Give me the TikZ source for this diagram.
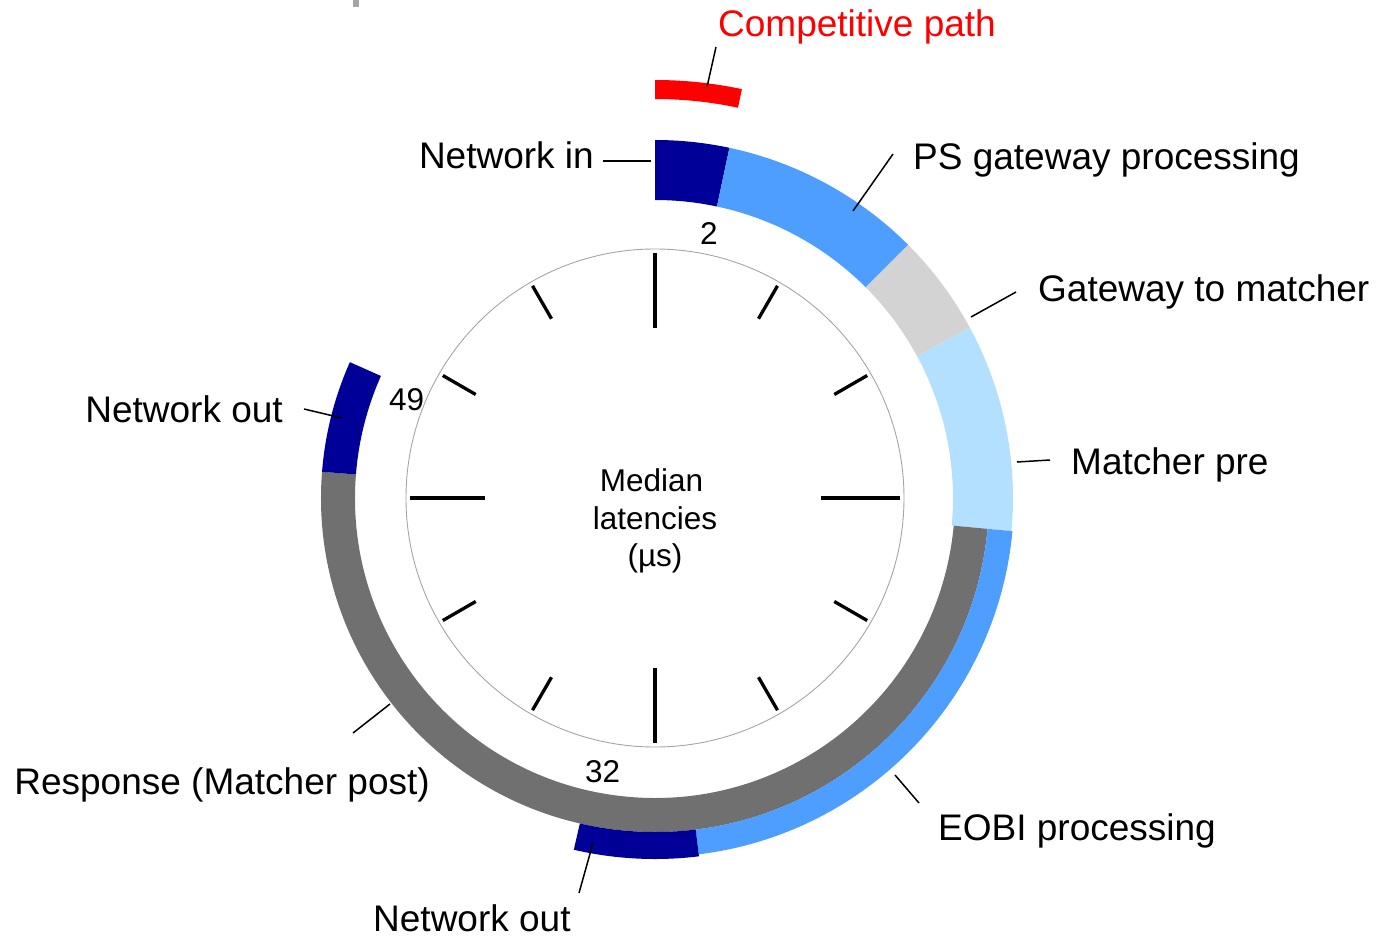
\documentclass[tikz,border=0pt]{standalone}
\usepackage{fontspec}
\setmainfont{Liberation Sans}
\definecolor{netnavy}{RGB}{0,0,153}
\definecolor{gwblue}{RGB}{77,158,255}
\definecolor{gwgray}{RGB}{211,211,211}
\definecolor{prelight}{RGB}{179,224,255}
\definecolor{postgray}{RGB}{112,112,112}
\definecolor{dialgray}{RGB}{165,165,165}
% annular sector: inner radius, outer radius, from/to clock angle (deg, clockwise from top), fill
\newcommand\ringseg[5]{%
  \fill[#5] (90-#3:#2pt) arc[start angle=90-#3, end angle=90-#4, radius=#2pt]
    -- (90-#4:#1pt) arc[start angle=90-#4, end angle=90-#3, radius=#1pt] -- cycle;}
\begin{document}
\begin{tikzpicture}[x=1pt,y=1pt,
  lbl/.style={inner sep=0pt, font=\fontsize{37}{44}\selectfont},
  num/.style={inner sep=0pt, font=\fontsize{31.5}{37.5}\selectfont},
  leader/.style={line width=1.5pt},
  tickmark/.style={line width=3.3pt}]
\useasboundingbox (-655,-440) rectangle (726,498);

% small mark at the top edge
\fill[dialgray] (-302,491) rectangle (-296,498);

% dial
\draw[dialgray, line width=0.9pt] (0,0) circle[radius=249pt];
\foreach \t/\ri in {0/170,30/207,60/207,90/166,120/207,150/207,180/170,210/207,240/207,270/170,300/207,330/207}
  \draw[tickmark] (90-\t:\ri pt) -- (90-\t:245pt);

% request path ring
\ringseg{298}{358}{0}{12}{netnavy}
\ringseg{298}{358}{12}{45}{gwblue}
\ringseg{298}{358}{45}{61.6}{gwgray}
\ringseg{298}{358}{61.6}{95.3}{prelight}
% parallel paths after the matcher
\ringseg{300}{334}{95.3}{274.5}{postgray}
\ringseg{300}{334}{274.5}{294}{netnavy}
\ringseg{334}{359}{95.3}{173}{gwblue}
\ringseg{334}{361}{173}{193}{netnavy}
% competitive path
\ringseg{399}{418}{0}{12}{red}

% centre caption and time marks
\node[num, align=center] (cap) at (0,-23) {Median\hspace*{7pt}\\latencies\\(µs)};
\node[num, anchor=base west] (t2) at (45,254) {2};
\node[num, anchor=base west] (t49) at (-266,88) {49};
\node[num, anchor=base west] (t32) at (-70,-284) {32};

% labels
\node[lbl, anchor=base west, text=red] (comp) at (63,461) {Competitive path};
\node[lbl, anchor=base east] (netin) at (-61,329) {Network in};
\node[lbl, anchor=base west] (psgw) at (258,328) {PS gateway processing};
\node[lbl, anchor=base west] (gwm) at (383,197) {Gateway to matcher};
\node[lbl, anchor=base west] (mpre) at (416,24) {Matcher pre};
\node[lbl, anchor=base west] (eobi) at (283,-342) {EOBI processing};
\node[lbl, anchor=base west] (nout2) at (-282,-433) {Network out};
\node[lbl, anchor=base east] (resp) at (-225,-296) {Response (Matcher post)};
\node[lbl, anchor=base east] (nout1) at (-372,76) {Network out};

% leader lines
\coordinate (compA) at (52,411);   \coordinate (compB) at (61,451);
\coordinate (ninA) at (-4,337);    \coordinate (ninB) at (-52,337);
\coordinate (psA) at (198,287);    \coordinate (psB) at (238,344);
\coordinate (gwA) at (316,181);    \coordinate (gwB) at (361,206);
\coordinate (mpA) at (362,36);     \coordinate (mpB) at (395,38);
\coordinate (eoA) at (240,-277);   \coordinate (eoB) at (264,-305);
\coordinate (no2A) at (-62,-345);  \coordinate (no2B) at (-76,-395);
\coordinate (reA) at (-265,-206);  \coordinate (reB) at (-302,-235);
\coordinate (no1A) at (-313,80);   \coordinate (no1B) at (-351,89);
\draw[leader] (compA) -- (compB);
\draw[leader] (ninA) -- (ninB);
\draw[leader] (psA) -- (psB);
\draw[leader] (gwA) -- (gwB);
\draw[leader] (mpA) -- (mpB);
\draw[leader] (eoA) -- (eoB);
\draw[leader] (no2A) -- (no2B);
\draw[leader] (reA) -- (reB);
\draw[leader] (no1A) -- (no1B);
\end{tikzpicture}
\end{document}
